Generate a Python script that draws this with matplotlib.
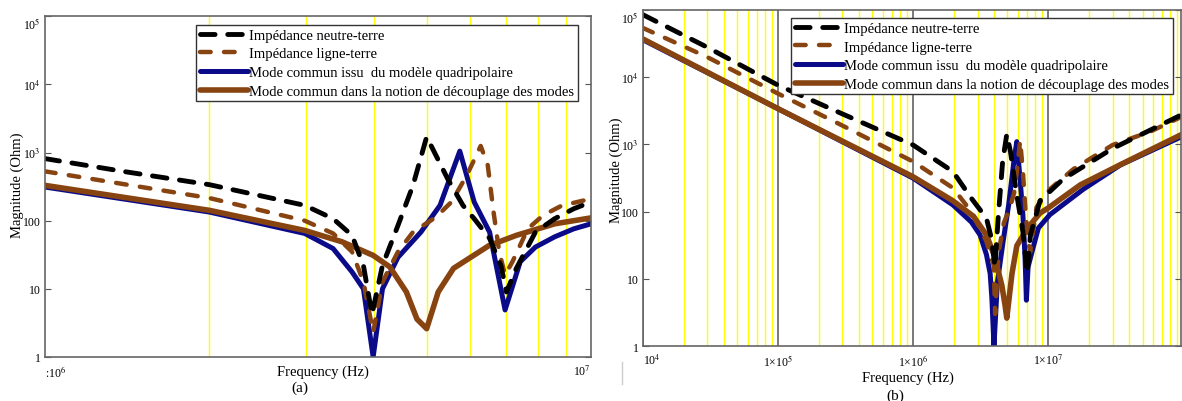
import matplotlib
matplotlib.use('Agg')
import matplotlib.pyplot as plt
from matplotlib.lines import Line2D
from matplotlib.ticker import LogLocator, NullFormatter, NullLocator

plt.rcParams['font.family'] = ['Liberation Serif', 'DejaVu Serif']
plt.rcParams['mathtext.fontset'] = 'stix'

labels = ['Impédance neutre-terre',
          'Impédance ligne-terre',
          'Mode commun issu  du modèle quadripolaire',
          'Mode commun dans la notion de découplage des modes']

# ---- panel (a): 1 MHz .. 10 MHz (frequencies in Hz, magnitude in Ohm)
black_a_f = [1.0e6, 1.41e6, 2.0e6, 2.99e6, 3.37e6, 3.65e6, 3.83e6, 3.97e6, 4.15e6, 4.43e6,
             4.72e6, 5.0e6, 5.2e6, 5.46e6, 5.83e6, 6.11e6, 6.52e6, 6.84e6, 7.0e6, 7.3e6,
             7.91e6, 8.58e6, 9.3e6, 10.0e6]
black_a_z = [815, 520, 338, 168, 107, 61, 22, 4.2, 22, 85,
             330, 1700, 910, 415, 167, 107, 55, 22, 9, 20,
             68, 107, 150, 188]

bdash_a_f = [1.0e6, 2.0e6, 2.99e6, 3.37e6, 3.65e6, 3.83e6, 3.99e6, 4.15e6, 4.43e6, 4.72e6,
             5.2e6, 5.55e6, 5.92e6, 6.28e6, 6.47e6, 6.63e6, 6.79e6, 6.96e6, 7.18e6, 7.66e6,
             8.17e6, 8.86e6, 9.3e6, 10.0e6]
bdash_a_z = [530, 215, 100, 65, 35, 12.6, 2.3, 12.6, 35, 68,
             113, 188, 460, 1250, 650, 134, 35, 16, 25, 76,
             120, 168, 183, 210]

blue_a_f = [1.0e6, 2.0e6, 2.99e6, 3.37e6, 3.65e6, 3.83e6, 3.99e6, 4.15e6, 4.43e6, 4.88e6,
            5.29e6, 5.75e6, 6.11e6, 6.52e6, 6.96e6, 7.42e6, 7.91e6, 8.58e6, 9.3e6, 10.0e6]
blue_a_z = [312, 134, 65, 39, 17.7, 10, 1.0, 10, 29, 68,
            168, 1050, 188, 68, 4.9, 25, 41, 58, 76, 90]

brown_a_f = [1.0e6, 2.0e6, 2.99e6, 3.5e6, 3.99e6, 4.28e6, 4.59e6, 4.8e6, 5.0e6, 5.25e6,
             5.6e6, 6.5e6, 7.3e6, 8.58e6, 10.0e6]
brown_a_z = [330, 142, 72, 49, 31, 21, 9, 3.6, 2.6, 9,
             20, 43, 61, 90, 110]

# ---- panel (b): 10 kHz .. ~100 MHz
black_b_f = [1.0e4, 2.98e4, 1.0e5, 2.93e5, 1.0e6, 1.97e6, 2.7e6, 3.49e6, 3.8e6, 4.04e6,
             4.26e6, 4.6e6, 4.94e6, 5.26e6, 5.8e6, 6.5e6, 7.0e6, 7.4e6, 8.7e6, 1.29e7,
             3.0e7, 5.69e7, 9.7e7]
black_b_z = [85000, 28000, 7600, 2900, 980, 395, 158, 80, 40, 15,
             78, 550, 1420, 780, 200, 50, 12, 45, 145, 305,
             870, 1630, 2750]

bdash_b_f = [1.0e4, 2.98e4, 1.0e5, 2.93e5, 1.0e6, 1.97e6, 2.7e6, 3.49e6, 3.95e6, 4.05e6,
             4.3e6, 4.7e6, 5.2e6, 5.6e6, 5.92e6, 6.2e6, 6.5e6, 6.8e6, 7.15e6, 7.36e6,
             8.2e6, 1.03e7, 1.54e7, 3.0e7, 5.69e7, 9.7e7]
bdash_b_z = [54000, 20000, 5700, 1950, 555, 225, 100, 36, 16, 3,
             25, 68, 113, 190, 460, 1140, 400, 100, 35, 25,
             116, 216, 430, 980, 1550, 2570]

blue_b_f = [1.0e4, 1.0e5, 1.0e6, 1.97e6, 2.7e6, 3.13e6, 3.49e6, 3.72e6, 3.83e6, 3.97e6,
            4.21e6, 4.64e6, 5.1e6, 5.61e6, 5.86e6, 6.2e6, 6.5e6, 6.75e6, 6.9e6, 7.1e6,
            7.77e6, 8.47e6, 1.03e7, 1.82e7, 3.43e7, 9.7e7]
blue_b_z = [36000, 3400, 315, 126, 70, 45, 23, 12, 5.2, 1.0,
            9, 36, 126, 620, 1100, 300, 90, 20, 4.8, 15,
            30, 57, 90, 215, 495, 1300]

brown_b_f = [1.0e4, 1.0e5, 1.0e6, 1.97e6, 2.8e6, 3.49e6, 4.0e6, 4.54e6, 4.8e6, 4.94e6,
             5.1e6, 5.4e6, 5.86e6, 6.95e6, 8.7e6, 1.0e7, 1.73e7, 3.43e7, 9.7e7]
brown_b_z = [37000, 3400, 330, 145, 85, 45, 22, 8, 4, 2.6,
             4.5, 12, 31, 55, 95, 113, 250, 500, 1400]

y_ticks = [1, 10, 100, 1e3, 1e4, 1e5]
y_labels = ['1', '10', '100', '10$^{3}$', '10$^{4}$', '10$^{5}$']

a_xticks = [1e6, 1e7]
a_xlabels = [':10$^{6}$', '10$^{7}$']
b_xticks = [1e4, 1e5, 1e6, 1e7]
b_xlabels = ['10$^{4}$', '1×10$^{5}$', '1×10$^{6}$', '1×10$^{7}$']

c_black = '#000000'
c_brown = '#884410'
c_blue = '#0B0B8A'


def draw_curves(ax, data):
    (bf, bz), (df, dz), (uf, uz), (rf, rz) = data
    ax.plot(bf, bz, color=c_black, lw=3.5, dashes=(3.0, 2.6), dash_capstyle='round',
            label=labels[0], zorder=2.4)
    ax.plot(df, dz, color=c_brown, lw=3.2, dashes=(2.4, 3.0), dash_capstyle='round',
            label=labels[1], zorder=2.3)
    ax.plot(uf, uz, color=c_blue, lw=3.6, solid_capstyle='round', label=labels[2], zorder=2.1)
    ax.plot(rf, rz, color=c_brown, lw=4.0, solid_capstyle='round', label=labels[3], zorder=2.2)


def style_axes(ax, xlim, xticks, xlabels, major_grid):
    ax.set_xscale('log')
    ax.set_yscale('log')
    ax.set_xlim(*xlim)
    ax.set_ylim(1, 1e5)
    ax.set_axisbelow(True)
    ax.set_xticks(xticks, xlabels)
    ax.set_yticks(y_ticks, y_labels)
    ax.xaxis.set_minor_locator(LogLocator(base=10, subs=range(2, 10), numticks=20))
    ax.xaxis.set_minor_formatter(NullFormatter())
    ax.yaxis.set_minor_locator(NullLocator())
    ax.grid(which='minor', axis='x', color='#FFFF00', lw=1.0)
    if major_grid:
        ax.grid(which='major', axis='x', color='#555555', lw=1.1)
    ax.tick_params(which='major', direction='in', length=4, width=0.8, color='#555555',
                   labelsize=8.5, right=True, top=False)
    ax.tick_params(axis='x', which='major', length=0, pad=5)
    ax.tick_params(axis='y', which='major', pad=3)
    ax.tick_params(which='minor', length=0)
    for s in ax.spines.values():
        s.set_color('#666666')
        s.set_linewidth(1.2)
    ax.get_yticklabels()[-1].set_va('top')


fig = plt.figure(figsize=(11.82, 4.02), dpi=100)
ax_a = fig.add_axes([0.0381, 0.1095, 0.4619, 0.8475])
ax_b = fig.add_axes([0.544, 0.1368, 0.4555, 0.8358])

draw_curves(ax_a, [(black_a_f, black_a_z), (bdash_a_f, bdash_a_z),
                   (blue_a_f, blue_a_z), (brown_a_f, brown_a_z)])
draw_curves(ax_b, [(black_b_f, black_b_z), (bdash_b_f, bdash_b_z),
                   (blue_b_f, blue_b_z), (brown_b_f, brown_b_z)])

style_axes(ax_a, (1e6, 1e7), a_xticks, a_xlabels, major_grid=False)
style_axes(ax_b, (1e4, 9.7e7), b_xticks, b_xlabels, major_grid=True)

xl = ax_a.get_xticklabels()
xl[0].set_ha('left')
xl[-1].set_ha('right')
ax_b.get_xticklabels()[0].set_ha('left')

for ax, anchor, xlc, ylc in [(ax_a, (0.2766, 0.9745), (0.509, -0.043), (-0.051, 0.508)),
                             (ax_b, (0.275, 0.976), (0.4926, -0.093), (-0.050, 0.527))]:
    leg = ax.legend(loc='upper left', bbox_to_anchor=anchor, fontsize=10.5, frameon=True,
                    fancybox=False, edgecolor='#333333', framealpha=1, borderpad=0.25,
                    labelspacing=0.37, handlelength=3.3, handletextpad=0.1, borderaxespad=0)
    leg.get_frame().set_linewidth(1.0)
    ax.set_xlabel('Frequency (Hz)', fontsize=10.5, va='center')
    ax.xaxis.set_label_coords(*xlc)
    ax.set_ylabel('Magnitude (Ohm)', fontsize=10.5, va='center')
    ax.yaxis.set_label_coords(*ylc)

fig.text(300 / 1182, 1 - 388 / 402, '(a)', fontsize=11, ha='center', va='center')
fig.text(895 / 1182, 1 - 396 / 402, '(b)', fontsize=11, ha='center', va='center')
fig.add_artist(Line2D([622 / 1182, 622 / 1182], [1 - 385 / 402, 1 - 363 / 402],
                      color='#CCCCCC', lw=1.0))

fig.savefig('out.png', dpi=100)
